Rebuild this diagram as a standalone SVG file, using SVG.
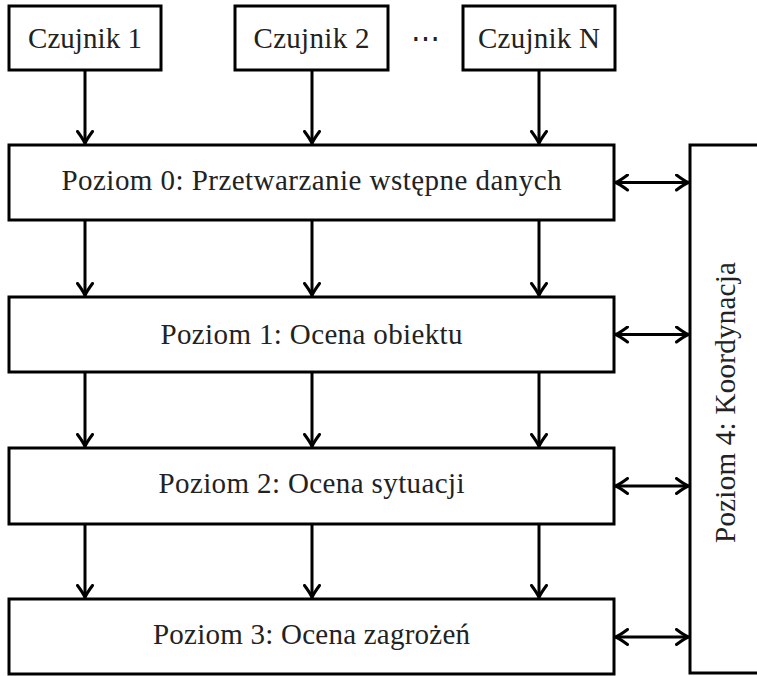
<svg xmlns="http://www.w3.org/2000/svg" width="757" height="676" viewBox="0 0 757 676">
<style>
  .box { fill: #ffffff; stroke: #000000; stroke-width: 3; }
  .lbl { font-family: "Liberation Serif", "Times New Roman", serif; font-size: 29px; fill: #222222; text-anchor: middle; }
  .conn { stroke: #000000; stroke-width: 3; fill: none; }
</style>
<defs>
  <marker id="tip" markerUnits="userSpaceOnUse" viewBox="-14 -9 16 18" refX="0" refY="0" markerWidth="16" markerHeight="18" orient="auto-start-reverse">
    <path d="M -12,-7.5 Q -4,-1.5 0,0 Q -4,1.5 -12,7.5" fill="none" stroke="#000" stroke-width="3" stroke-linecap="round" stroke-linejoin="round"/>
  </marker>
</defs>
<rect width="757" height="676" fill="#ffffff"/>

<g id="sensor1">
  <rect class="box" x="9" y="6" width="152" height="64"/>
  <text class="lbl" x="85" y="48" textLength="114" lengthAdjust="spacing">Czujnik 1</text>
</g>
<g id="sensor2">
  <rect class="box" x="235" y="6" width="153" height="64"/>
  <text class="lbl" x="311.5" y="48" textLength="116" lengthAdjust="spacing">Czujnik 2</text>
</g>
<g id="dots">
  <text class="lbl" x="425" y="48">⋯</text>
</g>
<g id="sensorN">
  <rect class="box" x="463" y="6" width="152" height="64"/>
  <text class="lbl" x="539" y="48" textLength="122" lengthAdjust="spacing">Czujnik N</text>
</g>

<g id="level0">
  <rect class="box" x="9" y="145" width="605" height="75"/>
  <text class="lbl" x="311.5" y="189.5" textLength="500" lengthAdjust="spacing">Poziom 0: Przetwarzanie wstępne danych</text>
</g>
<g id="level1">
  <rect class="box" x="9" y="297" width="605" height="75"/>
  <text class="lbl" x="311.5" y="344" textLength="302" lengthAdjust="spacing">Poziom 1: Ocena obiektu</text>
</g>
<g id="level2">
  <rect class="box" x="9" y="448" width="605" height="76"/>
  <text class="lbl" x="311.5" y="493" textLength="306" lengthAdjust="spacing">Poziom 2: Ocena sytuacji</text>
</g>
<g id="level3">
  <rect class="box" x="9" y="599" width="605" height="75"/>
  <text class="lbl" x="311.5" y="643.5" textLength="317" lengthAdjust="spacing">Poziom 3: Ocena zagrożeń</text>
</g>

<g id="level4">
  <rect class="box" x="690" y="145" width="90" height="528"/>
  <text class="lbl" transform="translate(735,402.5) rotate(-90)" x="0" y="0" textLength="281" lengthAdjust="spacing">Poziom 4: Koordynacja</text>
</g>

<g id="connectors">
  <line class="conn" x1="85" y1="70" x2="85" y2="143.5" marker-end="url(#tip)"/>
  <line class="conn" x1="312" y1="70" x2="312" y2="143.5" marker-end="url(#tip)"/>
  <line class="conn" x1="539" y1="70" x2="539" y2="143.5" marker-end="url(#tip)"/>

  <line class="conn" x1="85" y1="220" x2="85" y2="295.5" marker-end="url(#tip)"/>
  <line class="conn" x1="312" y1="220" x2="312" y2="295.5" marker-end="url(#tip)"/>
  <line class="conn" x1="539" y1="220" x2="539" y2="295.5" marker-end="url(#tip)"/>

  <line class="conn" x1="85" y1="372" x2="85" y2="446.5" marker-end="url(#tip)"/>
  <line class="conn" x1="312" y1="372" x2="312" y2="446.5" marker-end="url(#tip)"/>
  <line class="conn" x1="539" y1="372" x2="539" y2="446.5" marker-end="url(#tip)"/>

  <line class="conn" x1="85" y1="524" x2="85" y2="597.5" marker-end="url(#tip)"/>
  <line class="conn" x1="312" y1="524" x2="312" y2="597.5" marker-end="url(#tip)"/>
  <line class="conn" x1="539" y1="524" x2="539" y2="597.5" marker-end="url(#tip)"/>

  <line class="conn" x1="615.5" y1="182.5" x2="688.5" y2="182.5" marker-start="url(#tip)" marker-end="url(#tip)"/>
  <line class="conn" x1="615.5" y1="334.5" x2="688.5" y2="334.5" marker-start="url(#tip)" marker-end="url(#tip)"/>
  <line class="conn" x1="615.5" y1="486" x2="688.5" y2="486" marker-start="url(#tip)" marker-end="url(#tip)"/>
  <line class="conn" x1="615.5" y1="637" x2="688.5" y2="637" marker-start="url(#tip)" marker-end="url(#tip)"/>
</g>
</svg>
